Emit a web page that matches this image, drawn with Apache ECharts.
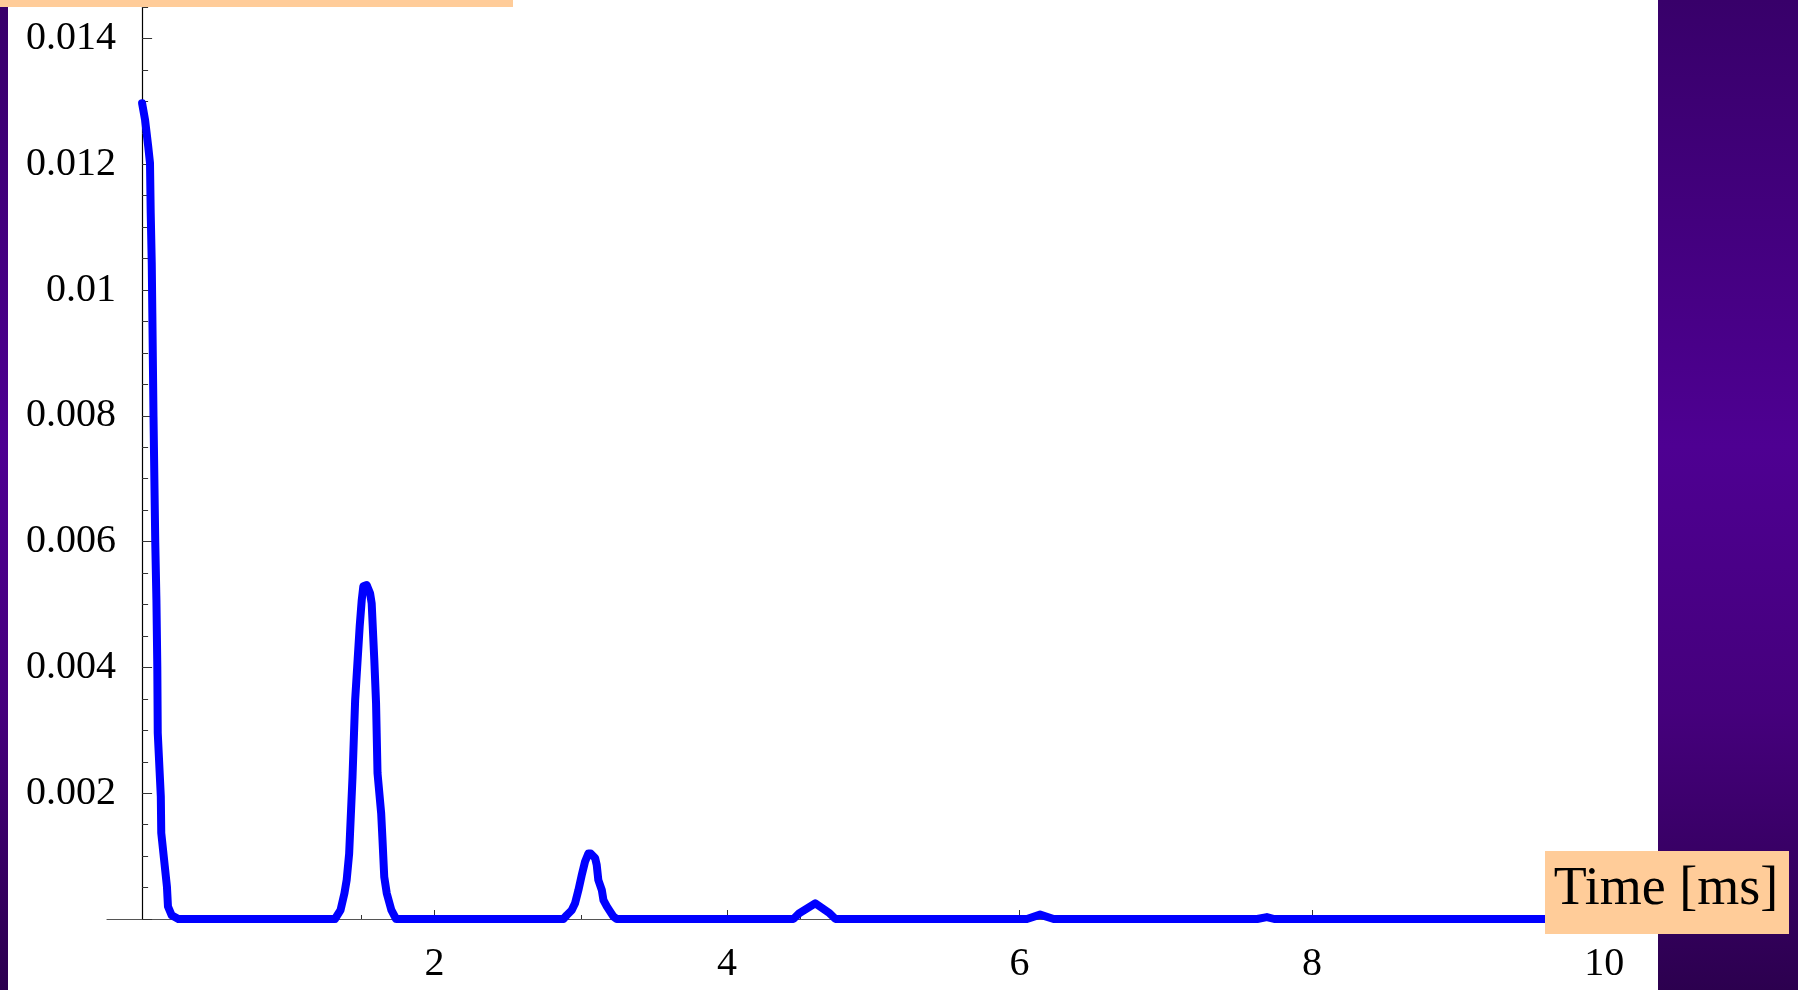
<!DOCTYPE html>
<html>
<head>
<meta charset="utf-8">
<script src="https://cdn.jsdelivr.net/npm/echarts@6/dist/echarts.min.js"></script>
<style>
html,body{margin:0;padding:0;background:#fff;}
#chart{width:1798px;height:990px;}
</style>
</head>
<body>
<div id="chart"></div>
<script>
// ---- data ----
const peak1Time  = [0, 0.02, 0.042, 0.054, 0.059, 0.066, 0.070, 0.078, 0.090, 0.098, 0.104, 0.107, 0.128, 0.131, 0.170, 0.177, 0.202, 0.248];
const peak1Value = [0.01297, 0.01271, 0.01228, 0.01202, 0.01122, 0.01043, 0.00963, 0.00799, 0.00599, 0.00507, 0.00401, 0.00296, 0.00195, 0.00137, 0.00051, 0.00020, 0.00006, 0];

const peak2Time  = [1.319, 1.357, 1.384, 1.399, 1.416, 1.439, 1.457, 1.488, 1.502, 1.513, 1.536, 1.559, 1.570, 1.588, 1.600, 1.610, 1.635, 1.644, 1.656, 1.673, 1.705, 1.737];
const peak2Value = [0, 0.00014, 0.00041, 0.00062, 0.00104, 0.00226, 0.00348, 0.00465, 0.00507, 0.00529, 0.00531, 0.00518, 0.00502, 0.00412, 0.00343, 0.00232, 0.00168, 0.00126, 0.00067, 0.00041, 0.00014, 0];

const peak3Time  = [2.881, 2.904, 2.938, 2.961, 2.984, 3.007, 3.029, 3.052, 3.068, 3.098, 3.109, 3.120, 3.144, 3.155, 3.178, 3.200, 3.223, 3.246];
const peak3Value = [0, 0.00006, 0.00014, 0.00025, 0.00046, 0.00070, 0.00091, 0.00104, 0.00104, 0.00097, 0.00086, 0.00062, 0.00046, 0.00030, 0.00020, 0.00012, 0.00004, 0];

const tailTime  = [4.454, 4.493, 4.603, 4.702, 4.742, 6.051, 6.141, 6.234, 7.626, 7.692, 7.742, 10];
const tailValue = [0, 0.00009, 0.00025, 0.00009, 0, 0, 0.00007, 0, 0, 0.00003, 0, 0];

const xTickLabels = [2, 4, 6, 8, 10];
const xMinorTicks = [0.5, 1, 1.5, 2.5, 3, 3.5, 4.5, 5, 5.5, 6.5, 7, 7.5, 8.5, 9, 9.5];
const yTickLabels = [0.002, 0.004, 0.006, 0.008, 0.01, 0.012, 0.014];
const yMajorTicks = [0, 0.002, 0.004, 0.006, 0.008, 0.01, 0.012, 0.014];
const yMinorTicks = [0.0005, 0.001, 0.0015, 0.0025, 0.003, 0.0035, 0.0045, 0.005, 0.0055, 0.0065, 0.007, 0.0075, 0.0085, 0.009, 0.0095, 0.0105, 0.011, 0.0115, 0.0125, 0.013, 0.0135, 0.0145];
const xAxisTitle = 'Time [ms]';

// ---- build series data ----
const times = [].concat(peak1Time, peak2Time, peak3Time, tailTime);
const values = [].concat(peak1Value, peak2Value, peak3Value, tailValue);
const lineData = times.map((t, i) => [t, values[i]]);

const FONT = "'Liberation Serif', 'Times New Roman', 'DejaVu Serif', serif";
const X_MIN = -0.24, X_MAX = 10.36, Y_MIN = 0, Y_MAX = 0.0145;

const purple = {
  type: 'linear', x: 0, y: 0, x2: 0, y2: 1,
  colorStops: [
    {offset: 0, color: '#38006a'},
    {offset: 0.45, color: '#4e0092'},
    {offset: 0.72, color: '#45007c'},
    {offset: 1, color: '#2c004f'}
  ]
};

const chart = echarts.init(document.getElementById('chart'), null, {renderer: 'canvas'});
chart.setOption({
  backgroundColor: '#ffffff',
  animation: false,
  grid: {left: 107, right: 141, top: 7, bottom: 71, containLabel: false, outerBoundsMode: 'none'},
  xAxis: [
    {
      type: 'value', min: X_MIN, max: X_MAX, position: 'bottom',
      axisLine: {show: true, onZero: false, lineStyle: {color: '#555', width: 1.2}},
      axisTick: {show: true, inside: true, length: 9, customValues: xTickLabels, lineStyle: {color: '#333', width: 1}},
      axisLabel: {show: true, customValues: xTickLabels, margin: 25, color: '#000', fontFamily: FONT, fontSize: 40},
      splitLine: {show: false}
    },
    {
      type: 'value', min: X_MIN, max: X_MAX, position: 'bottom',
      axisLine: {show: false, onZero: false},
      axisTick: {show: true, inside: true, length: 4, customValues: xMinorTicks, lineStyle: {color: '#333', width: 1}},
      axisLabel: {show: false},
      splitLine: {show: false}
    }
  ],
  yAxis: [
    {
      type: 'value', min: Y_MIN, max: Y_MAX, position: 'left',
      axisLine: {show: true, onZero: true, onZeroAxisIndex: 0, lineStyle: {color: '#000', width: 1.2}},
      axisTick: {show: true, inside: true, length: 10, customValues: yMajorTicks, lineStyle: {color: '#333', width: 1}},
      axisLabel: {show: true, customValues: yTickLabels, margin: -9, color: '#000', fontFamily: FONT, fontSize: 40,
        formatter: v => String(+v.toFixed(4))},
      splitLine: {show: false}
    },
    {
      type: 'value', min: Y_MIN, max: Y_MAX, position: 'left',
      axisLine: {show: false, onZero: true, onZeroAxisIndex: 0},
      axisTick: {show: true, inside: true, length: 6, customValues: yMinorTicks, lineStyle: {color: '#333', width: 1}},
      axisLabel: {show: false},
      splitLine: {show: false}
    }
  ],
  series: [{
    type: 'line',
    xAxisIndex: 0, yAxisIndex: 0,
    data: lineData,
    showSymbol: false,
    symbol: 'none',
    clip: false,
    z: 5,
    lineStyle: {color: '#0000ff', width: 8, cap: 'round', join: 'round'}
  }],
  graphic: [
    {type: 'rect', z: 50, shape: {x: 0, y: 0, width: 8, height: 990}, style: {fill: purple}},
    {type: 'rect', z: 50, shape: {x: 1658, y: 0, width: 140, height: 990}, style: {fill: purple}},
    {type: 'rect', z: 60, shape: {x: 0, y: 0, width: 513, height: 7}, style: {fill: '#ffcc99'}},
    {type: 'rect', z: 60, shape: {x: 1545, y: 851, width: 244, height: 83}, style: {fill: '#ffcc99'}},
    {type: 'text', z: 70, style: {text: xAxisTitle, x: 1666, y: 890, fill: '#000', font: '54px ' + FONT,
      align: 'center', verticalAlign: 'middle', textAlign: 'center', textVerticalAlign: 'middle'}}
  ]
});
</script>
</body>
</html>
